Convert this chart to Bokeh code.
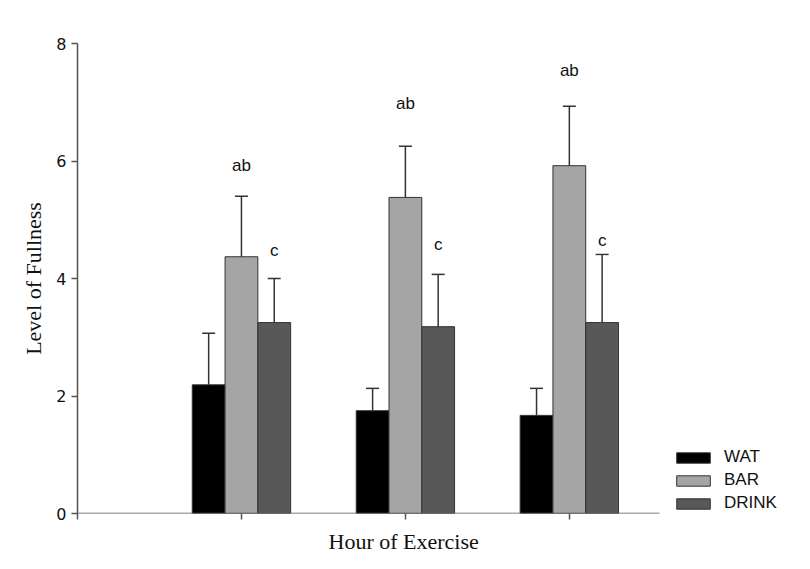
from bokeh.plotting import figure
from bokeh.models import (ColumnDataSource, Range1d, FixedTicker, Whisker, TeeHead,
                          Legend, LegendItem, Title, CustomLabelingPolicy)
from bokeh.core.properties import value
from bokeh.embed import file_html
from bokeh.resources import INLINE

# ---- data ----
groups = [1, 2, 3]
series = ["WAT", "BAR", "DRINK"]
wat = [2.19, 1.75, 1.67]
wat_err = [0.88, 0.38, 0.46]
bar = [4.37, 5.38, 5.92]
bar_err = [1.03, 0.87, 1.01]
drink = [3.25, 3.18, 3.25]
drink_err = [0.75, 0.89, 1.16]
ab_labels = ["ab", "ab", "ab"]
ab_y = [5.92, 6.98, 7.54]
c_labels = ["c", "c", "c"]
c_y = [4.48, 4.58, 4.65]
y_ticks = [0, 2, 4, 6, 8]

colors = ["#000000", "#a5a5a5", "#585858"]
offsets = [-0.2, 0.0, 0.2]
bw = 0.2

p = figure(frame_width=723, frame_height=470, output_backend="svg",
           toolbar_location=None,
           x_range=Range1d(0, 4.41), y_range=Range1d(0, 8),
           min_border_left=77, min_border_right=0, min_border_top=43,
           min_border_bottom=5)
p.outline_line_color = None
p.grid.visible = False
p.background_fill_color = "white"

items = []
for name, vals, errs, col, off in zip(series, [wat, bar, drink],
                                      [wat_err, bar_err, drink_err], colors, offsets):
    xs = [g + off for g in groups]
    src = ColumnDataSource(dict(x=xs, top=vals,
                                upper=[v + e for v, e in zip(vals, errs)]))
    r = p.vbar(x="x", top="top", width=bw, bottom=0, source=src,
               fill_color=col, line_color="#333333", line_width=1)
    w = Whisker(source=src, base="x", lower="top", upper="upper",
                line_color="#333333", line_width=1.5,
                upper_head=TeeHead(size=13, line_color="#333333", line_width=1.5),
                lower_head=None)
    p.add_layout(w)
    items.append(LegendItem(label=name, renderers=[r]))

# significance letters
p.text(x=groups, y=ab_y, text=ab_labels, text_align="center",
       text_baseline="middle", text_font=value("Liberation Sans"),
       text_font_size="17px", text_color="#111111")
p.text(x=[g + 0.2 for g in groups], y=c_y, text=c_labels, text_align="center",
       text_baseline="middle", text_font=value("Liberation Sans"),
       text_font_size="17px", text_color="#111111")

# x axis baseline (ends before legend)
p.segment(x0=[0], y0=[0], x1=[3.55], y1=[0], line_color="#555555", line_width=1.5)

# axes
p.xaxis.ticker = FixedTicker(ticks=[0] + groups)
p.xaxis.major_label_policy = CustomLabelingPolicy(
    code="for (const i of Array.from(indices)) { indices.unset(i) }\nreturn indices")
p.xaxis.major_label_text_font_size = "1px"
p.xaxis.major_label_standoff = 0
p.xaxis.axis_line_color = None
p.xaxis.minor_tick_line_color = None
p.xaxis.major_tick_out = 6
p.xaxis.major_tick_in = 0
p.xaxis.major_tick_line_color = "#555555"
p.xaxis.major_tick_line_width = 1.5

xtitle = Title(text="Hour of Exercise", align="left", offset=251, standoff=6,
               text_font="Liberation Serif", text_font_style="normal",
               text_font_size="22px", text_color="#111111")
p.add_layout(xtitle, "below")

p.yaxis.ticker = FixedTicker(ticks=y_ticks)
p.yaxis.minor_tick_line_color = None
p.yaxis.major_tick_out = 6
p.yaxis.major_tick_in = 0
p.yaxis.axis_line_color = "#555555"
p.yaxis.axis_line_width = 1.5
p.yaxis.major_tick_line_color = "#555555"
p.yaxis.major_tick_line_width = 1.5
p.yaxis.major_label_text_font = "DejaVu Sans"
p.yaxis.major_label_text_font_size = "16px"
p.yaxis.major_label_text_color = "#111111"
p.yaxis.major_label_standoff = 5
p.yaxis.axis_label = "Level of Fullness"
p.yaxis.axis_label_text_font = "Liberation Serif"
p.yaxis.axis_label_text_font_style = "normal"
p.yaxis.axis_label_text_font_size = "22px"
p.yaxis.axis_label_text_color = "#111111"
p.yaxis.axis_label_standoff = 7

legend = Legend(items=items, location=(595, 0), padding=0, margin=0,
                glyph_width=42, glyph_height=13, label_standoff=10,
                label_height=20, spacing=3,
                label_text_font="Liberation Sans", label_text_font_size="17px",
                label_text_color="#111111",
                border_line_color=None, background_fill_alpha=0)
p.add_layout(legend, "center")

open("out.html", "w").write(file_html(p, INLINE))
